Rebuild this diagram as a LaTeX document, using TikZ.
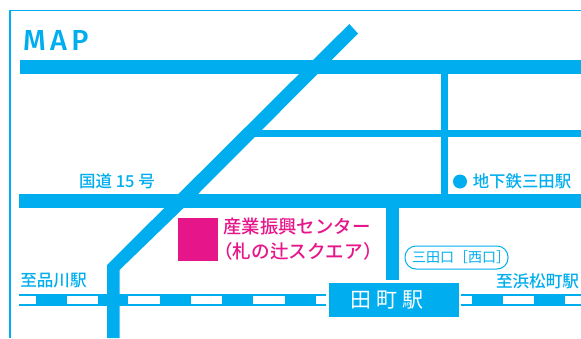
\documentclass[tikz,border=0pt]{standalone}
\usepackage{fontspec}
\setmainfont{Noto Sans CJK JP Medium}
\newfontfamily\mapfont[LetterSpace=15]{Fira Sans Medium}
\newfontfamily\thinfont{Noto Sans CJK JP}
\definecolor{mapblue}{HTML}{00AEEF}
\definecolor{mappink}{HTML}{E6168A}
\tikzset{
  road/.style={fill=mapblue,draw=none},
  label/.style={text=mapblue,inner sep=0pt,font=\fontsize{#1}{#1}\selectfont},
  pinklabel/.style={text=mappink,inner sep=0pt,anchor=west,font=\fontsize{18.4}{20}\selectfont},
  railpart/.style={fill=mapblue,draw=none}
}
\begin{document}
\begin{tikzpicture}[x=1pt,y=-1pt]
\useasboundingbox (0,0) rectangle (581,338);
\fill[white] (0,0) rectangle (581,338);
% frame
\draw[mapblue,line width=1.2pt] (10,338) -- (10,10.5) -- (581,10.5);
% rail
\draw[mapblue,line width=1.1pt] (19,295) -- (326,295) (19,305) -- (326,305);
\draw[mapblue,line width=1.1pt] (461,295) -- (581,295) (461,305) -- (581,305);
\foreach \a/\b in {36/67,98/128,160/191,222/253,285/316,472/503,534/565}
  \fill[railpart] (\a,295) rectangle (\b,305);
% roads
\fill[road] (20,59.5) rectangle (581,74);
\fill[road] (19,194) rectangle (581,208);
\fill[road] (255,129.5) rectangle (581,137);
\fill[road] (441,74) rectangle (448,194);
\fill[road] (386,208) rectangle (399,280);
\fill[road] (349.3,24) -- (358,33.5) -- (198,194) -- (119.5,270) -- (119.5,338) -- (107,338) -- (107,265) -- cycle;
% site
\fill[mappink] (178,218) rectangle (218,261);
\node[pinklabel] (site1) at (223,227) {産業振興センター};
\node[pinklabel,font=\fontsize{18.6}{20}\selectfont] (site2) at (214,251) {（札の辻スクエア）};
% station
\node[fill=mapblue,minimum width=130pt,minimum height=34pt,inner sep=0pt,anchor=north west] (station) at (329,283) {};
\node[text=white,inner sep=0pt,font=\thinfont\fontsize{21}{21}\selectfont] (stationname) at (387,300) {田\hspace{5pt}町\hspace{5pt}駅};
% labels
\node[text=mapblue,inner sep=0pt,anchor=west,font=\mapfont\fontsize{29}{29}\selectfont] (maptitle) at (23,40.5) {MAP};
\node[label=16.5] (route) at (117,181) {国道 15 号};
\node[label=16.6] (west) at (53.5,281) {至品川駅};
\node[label=16.6] (east) at (537.5,281) {至浜松町駅};
\node[label=16.4] (subway) at (522,181) {地下鉄三田駅};
\fill[mapblue] (460,181.5) circle (7);
\node[draw=mapblue,line width=1pt,rounded corners=11pt,minimum width=103pt,minimum height=23pt,inner sep=0pt] (exit) at (456.5,257.5) {};
\node[text=mapblue,inner sep=0pt,font=\thinfont\fontsize{14}{14}\selectfont] (exitname) at (461,257.5) {三田口［西口］};
\end{tikzpicture}
\end{document}
